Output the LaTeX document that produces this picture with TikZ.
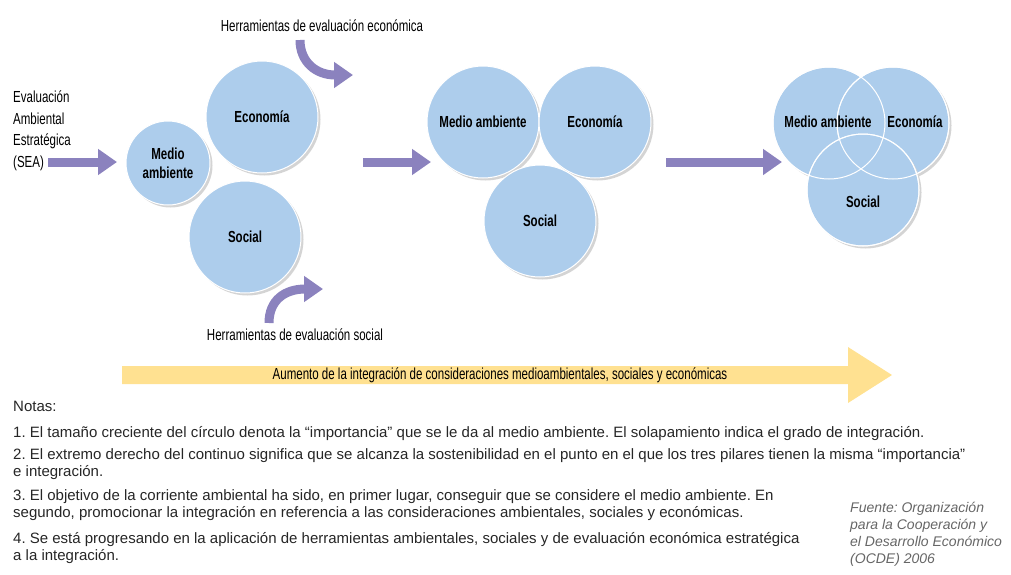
\documentclass[tikz,border=0pt]{standalone}
\usepackage{fontspec}
\setmainfont{Liberation Sans}
\newfontfamily\condfont{Liberation Sans}[FakeStretch=0.72]
\usetikzlibrary{arrows.meta,shadows}
\definecolor{circblue}{RGB}{173,205,236}
\definecolor{arrowpurple}{RGB}{139,130,190}
\definecolor{bandyellow}{RGB}{255,225,145}
\definecolor{shadowgray}{RGB}{212,212,212}
\frenchspacing

\begin{document}
\begin{tikzpicture}[x=1pt,y=-1pt]
\tikzset{
  circ/.style={circle, fill=circblue, draw=white, line width=1pt, inner sep=0pt, align=center,
    font=\condfont\bfseries\fontsize{16}{19}\selectfont,
    drop shadow={shadow xshift=2.5pt, shadow yshift=-2.5pt, fill=shadowgray, opacity=1}},
  vennlbl/.style={inner sep=0pt, font=\condfont\bfseries\fontsize{16}{19}\selectfont},
  bigarrow/.style={draw=arrowpurple, line width=9pt, -{Triangle[length=19pt,width=25pt]}},
  tag/.style={inner sep=0pt, font=\condfont\fontsize{16}{21.5}\selectfont},
  note/.style={anchor=base west, align=left, inner sep=0pt, text=black!85, font=\fontsize{15}{17}\selectfont}
}
\useasboundingbox (0,0) rectangle (1011,574);

% first stage
\node[tag, anchor=west, align=left] (sea) at (13,131) {Evaluación\\Ambiental\\Estratégica\\(SEA)};
\node[circ, minimum size=84] (ma1) at (168,163) {Medio\\ambiente};
\node[circ, minimum size=112] (ec1) at (262,117) {Economía};
\node[circ, minimum size=112] (so1) at (245,237) {Social};
\coordinate (a1s) at (48,162);
\coordinate (a1e) at (117,162);
\draw[bigarrow] (a1s) -- (a1e);

\node[tag] (ecotool) at (322,26) {Herramientas de evaluación económica};
\node[tag] (soctool) at (295,335) {Herramientas de evaluación social};
\coordinate (ecot1) at (300,40);
\coordinate (ecot2) at (353,75);
\draw[bigarrow] (ecot1) .. controls (300,62) and (316,75) .. (ecot2);
\coordinate (soct1) at (269,323);
\coordinate (soct2) at (323,289);
\draw[bigarrow] (soct1) .. controls (269,300) and (285,289) .. (soct2);

% second stage
\coordinate (a2s) at (363,162);
\coordinate (a2e) at (431,162);
\draw[bigarrow] (a2s) -- (a2e);
\node[circ, minimum size=112] (ma2) at (483,122) {Medio ambiente};
\node[circ, minimum size=112] (ec2) at (595,122) {Economía};
\node[circ, minimum size=112] (so2) at (540,221) {Social};

% third stage
\coordinate (a3s) at (666,162);
\coordinate (a3e) at (782,162);
\draw[bigarrow] (a3s) -- (a3e);
\node[circ, minimum size=112] (ma3) at (829,123) {};
\node[circ, minimum size=112] (ec3) at (893,123) {};
\node[circ, minimum size=112] (so3) at (863,190) {};
\foreach \c in {ma3,ec3,so3} \draw[white, line width=1pt] (\c.center) circle[radius=56];
\node[vennlbl] (ma3t) at (828,122) {Medio ambiente};
\node[vennlbl] (ec3t) at (915,122) {Economía};
\node[vennlbl] (so3t) at (863,202) {Social};

% continuum
\fill[bandyellow] (122,366) -- (848,366) -- (848,347) -- (892,375) -- (848,403) -- (848,384) -- (122,384) -- cycle;
\node[tag] (band) at (500,375) {Aumento de la integración de consideraciones medioambientales, sociales y económicas};

% notes
\node[note] (notas) at (13,411) {Notas:};
\node[note] (n1) at (13,437) {1. El tamaño creciente del círculo denota la “importancia” que se le da al medio ambiente. El solapamiento indica el grado de integración.};
\node[note] (n2) at (13,476) {2. El extremo derecho del continuo significa que se alcanza la sostenibilidad en el punto en el que los tres pilares tienen la misma “importancia”\\e integración.};
\node[note] (n3) at (13,517) {3. El objetivo de la corriente ambiental ha sido, en primer lugar, conseguir que se considere el medio ambiente. En\\segundo, promocionar la integración en referencia a las consideraciones ambientales, sociales y económicas.};
\node[note] (n4) at (13,560) {4. Se está progresando en la aplicación de herramientas ambientales, sociales y de evaluación económica estratégica\\a la integración.};
\node[note, text=black!60, font=\itshape\fontsize{14}{17}\selectfont] (fuente) at (850,563) {Fuente: Organización\\para la Cooperación y\\el Desarrollo Económico\\(OCDE) 2006};
\end{tikzpicture}
\end{document}
